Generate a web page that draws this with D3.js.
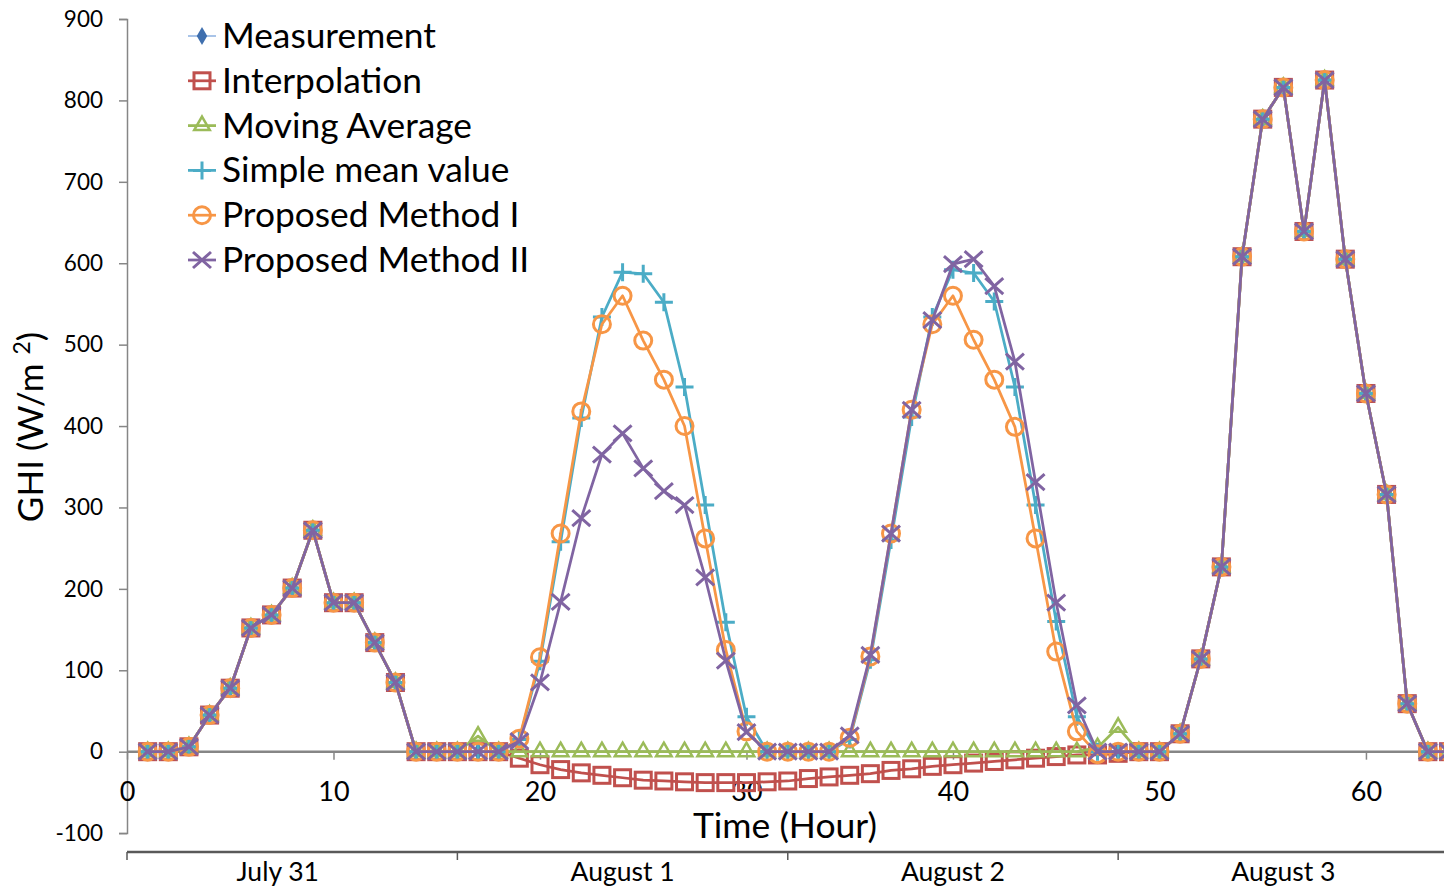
<!DOCTYPE html>
<html><head><meta charset="utf-8">
<script src="https://cdn.jsdelivr.net/npm/d3@7"></script>
<style>html,body{margin:0;padding:0;background:#fff;overflow:hidden}</style>
</head><body>
<svg id="c" width="1444" height="888"></svg>
<script>
// ---- data ----
const hours = [1,2,3,4,5,6,7,8,9,10,11,12,13,14,15,16,17,18,19,20,21,22,23,24,25,26,27,28,29,30,31,32,
  33,34,35,36,37,38,39,40,41,42,43,44,45,46,47,48,49,50,51,52,53,54,55,56,57,58,59,60,61,62,63,64];
const N = null;
const measurement = [0,0,6,45,78,152,168,201,272,183,183,134,85,0,0,0,0,0,
  N,N,N,N,N,N,N,N,N,N,N,N,N,N,N,N,N,N,N,N,N,N,N,N,N,N,N,N,N,
  0,0,0,22,114,227,608,777,816,639,825,605,440,316,59,0,0];
const interpolation = [0,0,6,45,78,152,168,201,272,183,183,134,85,0,0,0,0,0,
  -8,-16,-22,-26,-29,-32,-35,-36,-37,-38,-38,-38,-37,-36,-33,-31,-29,-27,-23,-21,-18,-16,-14,-12,-10,-8,-6,-4,-4,
  -2,0,0,22,114,227,608,777,816,639,825,605,440,316,59,0,0];
const movingAverage = [0,0,6,45,78,152,168,201,272,183,183,134,85,0,0,0,19,0,
  0,0,0,0,0,0,0,0,0,0,0,0,0,0,0,0,0,0,0,0,0,0,0,0,0,0,0,0,5,
  30,0,0,22,114,227,608,777,816,639,825,605,440,316,59,0,0];
const simpleMean = [0,0,6,45,78,152,168,201,272,183,183,134,85,0,0,0,0,0,
  15,111,258,410,534,589,587,552,448,303,159,43,0,0,0,0,15,113,260,411,534,592,588,553,448,303,160,43,0,
  0,0,0,22,114,227,608,777,816,639,825,605,440,316,59,0,0];
const proposed1 = [0,0,6,45,78,152,168,201,272,183,183,134,85,0,0,0,0,0,
  16,116,268,418,525,560,505,457,400,262,125,25,0,0,0,0,17,117,268,420,525,560,506,457,399,262,123,25,-3,
  0,0,0,22,114,227,608,777,816,639,825,605,440,316,59,0,0];
const proposed2 = [0,0,6,45,78,152,168,201,272,183,183,134,85,0,0,0,0,0,
  13,85,184,287,365,391,348,320,303,214,112,24,0,0,0,0,20,119,268,420,530,599,605,572,479,331,183,57,0,
  0,0,0,22,114,227,608,777,816,639,825,605,440,316,59,0,0];
const seriesNames = ["Measurement","Interpolation","Moving Average","Simple mean value","Proposed Method I","Proposed Method II"];
const yTicks = [-100,0,100,200,300,400,500,600,700,800,900];
const xTicks = [0,10,20,30,40,50,60];
const dayBounds = [0,16,32,48];
const dayLabels = ["July 31","August 1","August 2","August 3"];
const dayLabelHours = [7.3,24,40,56];

// ---- layout ----
const svg = d3.select("#c");
const FONT = "Lato, 'Open Sans', sans-serif";
const x = d3.scaleLinear().domain([0, 63.78]).range([127, 1444]);
const y = d3.scaleLinear().domain([-100, 900]).range([833.1, 19]);
const axisCol = "#868686";

// y axis
const yAx = svg.append("g").attr("transform", "translate(127,0)")
  .call(d3.axisLeft(y).tickValues(yTicks).tickSize(8).tickPadding(16).tickFormat(d => String(d)));
yAx.select(".domain").attr("stroke", axisCol).attr("stroke-width", 1.5);
yAx.selectAll(".tick line").attr("stroke", axisCol).attr("stroke-width", 1.5);
yAx.selectAll("text").attr("font-family", FONT).attr("font-size", 22.5).attr("fill", "#000");

// x axis at value 0
const xAx = svg.append("g").attr("transform", `translate(0,${y(0)})`)
  .call(d3.axisBottom(x).tickValues(xTicks).tickSize(8).tickSizeOuter(0).tickFormat(d => String(d)));
xAx.select(".domain").attr("stroke", axisCol).attr("stroke-width", 2.5).attr("d", `M127,0H1444`);
xAx.selectAll(".tick line").attr("stroke", axisCol).attr("stroke-width", 1.5);
xAx.selectAll("text").attr("font-family", FONT).attr("font-size", 27).attr("fill", "#000").attr("y", 30).attr("dy", "0.71em");

// date axis
const dAx = svg.append("g").attr("transform", "translate(0,852)");
dAx.append("line").attr("x1", 127).attr("x2", 1444).attr("stroke", "#595959").attr("stroke-width", 2.5);
dAx.selectAll("line.t").data(dayBounds).enter().append("line").attr("class","t")
  .attr("x1", d => x(d)).attr("x2", d => x(d)).attr("y1", 0).attr("y2", 8)
  .attr("stroke", "#595959").attr("stroke-width", 1.5);
dAx.selectAll("text").data(dayLabels).enter().append("text")
  .attr("x", (d,i) => x(dayLabelHours[i])).attr("y", 29).attr("text-anchor", "middle")
  .attr("font-family", FONT).attr("font-size", 26.5).text(d => d);

// axis titles
svg.append("text").attr("x", 785).attr("y", 838).attr("text-anchor", "middle")
  .attr("font-family", FONT).attr("font-size", 35.5).text("Time (Hour)");
const yt = svg.append("text").attr("transform", "translate(43,427) rotate(-90)").attr("text-anchor", "middle")
  .attr("font-family", FONT).attr("font-size", 35);
yt.append("tspan").text("GHI (W/m ");
yt.append("tspan").attr("font-size", 23).attr("dy", -13).text("2");
yt.append("tspan").attr("dy", 13).text(")");

// series
const cols = ["#3f6fae","#c0504d","#9bbb59","#4bacc6","#f79646","#8064a2"];
const lineCols = ["#a9c4e8","#c0504d","#9bbb59","#4bacc6","#f79646","#8064a2"];
const allSeries = [measurement, interpolation, movingAverage, simpleMean, proposed1, proposed2];

function drawMarker(g, i, cx, cy) {
  const c = cols[i];
  if (i === 0) {
    g.append("path").attr("d", d3.symbol(d3.symbolDiamond, 95)()).attr("transform", `translate(${cx},${cy})`).attr("fill", c);
  } else if (i === 1) {
    g.append("rect").attr("x", cx-8).attr("y", cy-8).attr("width", 16).attr("height", 16)
      .attr("fill", "none").attr("stroke", c).attr("stroke-width", 3);
  } else if (i === 2) {
    g.append("path").attr("d", d3.symbol(d3.symbolTriangle, 105)()).attr("transform", `translate(${cx},${cy})`)
      .attr("fill", "none").attr("stroke", c).attr("stroke-width", 2.5);
  } else if (i === 3) {
    g.append("path").attr("d", `M${cx-9},${cy}H${cx+9}M${cx},${cy-9}V${cy+9}`).attr("stroke", c).attr("stroke-width", 3);
  } else if (i === 4) {
    g.append("circle").attr("cx", cx).attr("cy", cy).attr("r", 8.5).attr("fill", "none").attr("stroke", c).attr("stroke-width", 3);
  } else {
    g.append("path").attr("d", `M${cx-9},${cy-8}L${cx+9},${cy+8}M${cx-9},${cy+8}L${cx+9},${cy-8}`).attr("stroke", c).attr("stroke-width", 3);
  }
}

const plot = svg.append("g");
allSeries.forEach((vals, i) => {
  const pts = hours.map((h, k) => [h, vals[k]]);
  const line = d3.line().defined(d => d[1] !== null).x(d => x(d[0])).y(d => y(d[1]));
  const g = plot.append("g");
  g.append("path").attr("d", line(pts)).attr("fill", "none").attr("stroke", lineCols[i])
    .attr("stroke-width", i === 0 ? 2 : 2.75).attr("stroke-linejoin", "round");
  pts.filter(d => d[1] !== null).forEach(d => drawMarker(g, i, x(d[0]), y(d[1])));
});

// legend
const lg = svg.append("g");
seriesNames.forEach((name, i) => {
  const cy = 36 + i * 44.8;
  const g = lg.append("g");
  g.append("line").attr("x1", 188).attr("x2", 216).attr("y1", cy).attr("y2", cy)
    .attr("stroke", lineCols[i]).attr("stroke-width", i === 0 ? 2 : 2.75);
  drawMarker(g, i, 202, cy);
  g.append("text").attr("x", 222).attr("y", cy + 12).attr("font-family", FONT).attr("font-size", 35.3).text(name);
});
</script>
</body></html>
